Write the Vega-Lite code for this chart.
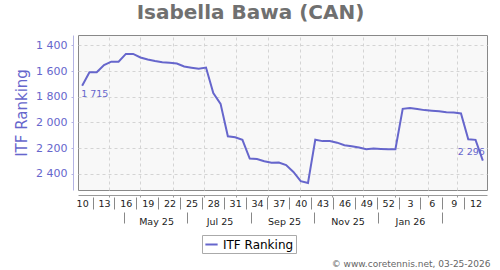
{
  "$schema": "https://vega.github.io/schema/vega-lite/v6.json",
  "width": 409,
  "height": 155,
  "autosize": {"type": "none"},
  "padding": {"left": 78, "top": 35, "right": 13, "bottom": 80},
  "background": "white",
  "config": {
    "font": "DejaVu Sans",
    "locale": {"number": {"decimal": ".", "thousands": " ", "grouping": [3], "currency": ["", ""]}},
    "view": {"fill": "#f8f8f8", "stroke": "#888888", "strokeWidth": 1},
    "axis": {"labelFont": "DejaVu Sans", "titleFont": "DejaVu Sans"}
  },
  "title": {"text": "Isabella Bawa (CAN)", "fontSize": 20, "fontWeight": "bold", "color": "#707070", "anchor": "middle", "frame": "group", "dx": -32, "offset": 12},
  "data": {"values": [
    {"date": "2025-03-06", "rank": 1715},
    {"date": "2025-03-13", "rank": 1610},
    {"date": "2025-03-20", "rank": 1609},
    {"date": "2025-03-27", "rank": 1553},
    {"date": "2025-04-03", "rank": 1527},
    {"date": "2025-04-10", "rank": 1527},
    {"date": "2025-04-17", "rank": 1467},
    {"date": "2025-04-24", "rank": 1467},
    {"date": "2025-05-01", "rank": 1495},
    {"date": "2025-05-08", "rank": 1510},
    {"date": "2025-05-15", "rank": 1522},
    {"date": "2025-05-22", "rank": 1531},
    {"date": "2025-05-29", "rank": 1536},
    {"date": "2025-06-05", "rank": 1542},
    {"date": "2025-06-12", "rank": 1565},
    {"date": "2025-06-19", "rank": 1574},
    {"date": "2025-06-26", "rank": 1582},
    {"date": "2025-07-03", "rank": 1573},
    {"date": "2025-07-10", "rank": 1772},
    {"date": "2025-07-17", "rank": 1855},
    {"date": "2025-07-24", "rank": 2107},
    {"date": "2025-07-31", "rank": 2115},
    {"date": "2025-08-07", "rank": 2135},
    {"date": "2025-08-14", "rank": 2281},
    {"date": "2025-08-21", "rank": 2284},
    {"date": "2025-08-28", "rank": 2301},
    {"date": "2025-09-04", "rank": 2313},
    {"date": "2025-09-11", "rank": 2312},
    {"date": "2025-09-18", "rank": 2331},
    {"date": "2025-09-25", "rank": 2385},
    {"date": "2025-10-02", "rank": 2456},
    {"date": "2025-10-09", "rank": 2470},
    {"date": "2025-10-16", "rank": 2134},
    {"date": "2025-10-23", "rank": 2145},
    {"date": "2025-10-30", "rank": 2145},
    {"date": "2025-11-06", "rank": 2157},
    {"date": "2025-11-13", "rank": 2177},
    {"date": "2025-11-20", "rank": 2185},
    {"date": "2025-11-27", "rank": 2195},
    {"date": "2025-12-04", "rank": 2208},
    {"date": "2025-12-11", "rank": 2203},
    {"date": "2025-12-18", "rank": 2206},
    {"date": "2025-12-25", "rank": 2208},
    {"date": "2026-01-01", "rank": 2208},
    {"date": "2026-01-08", "rank": 1894},
    {"date": "2026-01-15", "rank": 1888},
    {"date": "2026-01-22", "rank": 1895},
    {"date": "2026-01-29", "rank": 1904},
    {"date": "2026-02-05", "rank": 1908},
    {"date": "2026-02-12", "rank": 1912},
    {"date": "2026-02-19", "rank": 1920},
    {"date": "2026-02-26", "rank": 1923},
    {"date": "2026-03-05", "rank": 1930},
    {"date": "2026-03-12", "rank": 2130},
    {"date": "2026-03-19", "rank": 2135},
    {"date": "2026-03-26", "rank": 2296}
  ]},
  "resolve": {"axis": {"x": "independent"}},
  "encoding": {
    "y": {
      "field": "rank", "type": "quantitative",
      "scale": {"domain": [1320, 2525], "reverse": true, "nice": false, "zero": false},
      "axis": {
        "values": [1400, 1600, 1800, 2000, 2200, 2400],
        "labelExpr": "replace(format(datum.value, ','), ',', ' ')",
        "labelOverlap": false, "labelFlush": false, "labelBound": false,
        "offset": 5, "domainColor": "#b4b4e4", "tickColor": "#b4b4e4", "tickSize": 2,
        "labelColor": "#6666cc", "labelFontSize": 11, "labelPadding": 4,
        "grid": true, "gridDash": [3, 3], "gridColor": "#d4d4d4",
        "title": "ITF Ranking", "titleColor": "#6666cc", "titleFontSize": 15, "titleFontWeight": "normal",
        "titleX": -52, "titleY": 77.5, "titleAngle": 270, "titleAlign": "center", "titleBaseline": "middle"
      }
    }
  },
  "layer": [
    {
      "mark": {"type": "line", "strokeWidth": 2, "clip": true},
      "encoding": {
        "x": {
          "field": "date", "type": "temporal",
          "scale": {"type": "utc", "domain": [{"year": 2025, "month": 3, "date": 2, "utc": true}, {"year": 2026, "month": 3, "date": 30, "utc": true}]},
          "axis": {
            "orient": "bottom", "title": null, "offset": 5, "grid": false,
            "values": [
              {"year": 2025, "month": 3, "date": 6, "utc": true},
              {"year": 2025, "month": 3, "date": 27, "utc": true},
              {"year": 2025, "month": 4, "date": 17, "utc": true},
              {"year": 2025, "month": 5, "date": 8, "utc": true},
              {"year": 2025, "month": 5, "date": 29, "utc": true},
              {"year": 2025, "month": 6, "date": 19, "utc": true},
              {"year": 2025, "month": 7, "date": 10, "utc": true},
              {"year": 2025, "month": 7, "date": 31, "utc": true},
              {"year": 2025, "month": 8, "date": 21, "utc": true},
              {"year": 2025, "month": 9, "date": 11, "utc": true},
              {"year": 2025, "month": 10, "date": 2, "utc": true},
              {"year": 2025, "month": 10, "date": 23, "utc": true},
              {"year": 2025, "month": 11, "date": 13, "utc": true},
              {"year": 2025, "month": 12, "date": 4, "utc": true},
              {"year": 2025, "month": 12, "date": 25, "utc": true},
              {"year": 2026, "month": 1, "date": 15, "utc": true},
              {"year": 2026, "month": 2, "date": 5, "utc": true},
              {"year": 2026, "month": 2, "date": 26, "utc": true},
              {"year": 2026, "month": 3, "date": 19, "utc": true}
            ],
            "labelExpr": "'' + toNumber(utcFormat(datum.value, '%V'))",
            "tickSize": 0, "domain": true, "domainColor": "#999999",
            "labelFontSize": 9.5, "labelColor": "#222222", "labelPadding": 3,
            "labelFlush": false, "labelOverlap": false, "labelBound": false
          }
        },
        "color": {
          "datum": "ITF Ranking", "type": "nominal",
          "scale": {"range": ["#6666cc"]},
          "legend": {
            "title": null, "orient": "none", "legendX": 124, "legendY": 200,
            "symbolType": "stroke", "symbolStrokeWidth": 2, "symbolSize": 150,
            "labelFontSize": 12, "labelColor": "#000000", "labelFont": "DejaVu Sans",
            "strokeColor": "#aaaaaa", "fillColor": "#ffffff", "padding": 2, "labelOffset": 4
          }
        }
      }
    },
    {
      "transform": [{"filter": "datum.rank == 1715"}],
      "mark": {"type": "text", "align": "left", "baseline": "top", "dx": -1, "dy": 3, "fontSize": 9.5, "color": "#6666cc"},
      "encoding": {
        "x": {
          "field": "date", "type": "temporal",
          "axis": {
            "orient": "bottom", "title": null, "offset": 7, "grid": false, "labels": false, "domain": false,
            "tickSize": 12, "tickColor": "#888888",
            "values": [
              {"year": 2025, "month": 3, "date": 16, "utc": true},
              {"year": 2025, "month": 4, "date": 6, "utc": true},
              {"year": 2025, "month": 4, "date": 27, "utc": true},
              {"year": 2025, "month": 5, "date": 18, "utc": true},
              {"year": 2025, "month": 6, "date": 8, "utc": true},
              {"year": 2025, "month": 6, "date": 29, "utc": true},
              {"year": 2025, "month": 7, "date": 20, "utc": true},
              {"year": 2025, "month": 8, "date": 10, "utc": true},
              {"year": 2025, "month": 8, "date": 31, "utc": true},
              {"year": 2025, "month": 9, "date": 21, "utc": true},
              {"year": 2025, "month": 10, "date": 12, "utc": true},
              {"year": 2025, "month": 11, "date": 2, "utc": true},
              {"year": 2025, "month": 11, "date": 23, "utc": true},
              {"year": 2025, "month": 12, "date": 14, "utc": true},
              {"year": 2026, "month": 1, "date": 4, "utc": true},
              {"year": 2026, "month": 1, "date": 25, "utc": true},
              {"year": 2026, "month": 2, "date": 15, "utc": true},
              {"year": 2026, "month": 3, "date": 8, "utc": true}
            ]
          }
        },
        "text": {"field": "rank", "type": "quantitative", "format": ","}
      }
    },
    {
      "transform": [{"filter": "datum.rank == 2296"}],
      "mark": {"type": "text", "align": "right", "baseline": "bottom", "dx": 2, "dy": -4, "fontSize": 9.5, "color": "#6666cc"},
      "encoding": {
        "x": {
          "field": "date", "type": "temporal",
          "axis": {
            "orient": "bottom", "title": null, "offset": 5, "labels": false, "domain": false,
            "tickSize": 2, "tickColor": "#999999",
            "grid": true, "gridDash": [3, 3], "gridColor": "#d4d4d4",
            "values": [
              {"year": 2025, "month": 4, "date": 1, "utc": true},
              {"year": 2025, "month": 5, "date": 1, "utc": true},
              {"year": 2025, "month": 6, "date": 1, "utc": true},
              {"year": 2025, "month": 7, "date": 1, "utc": true},
              {"year": 2025, "month": 8, "date": 1, "utc": true},
              {"year": 2025, "month": 9, "date": 1, "utc": true},
              {"year": 2025, "month": 10, "date": 1, "utc": true},
              {"year": 2025, "month": 11, "date": 1, "utc": true},
              {"year": 2025, "month": 12, "date": 1, "utc": true},
              {"year": 2026, "month": 1, "date": 1, "utc": true},
              {"year": 2026, "month": 2, "date": 1, "utc": true},
              {"year": 2026, "month": 3, "date": 1, "utc": true}
            ]
          }
        },
        "text": {"field": "rank", "type": "quantitative", "format": ","}
      }
    },
    {
      "mark": {"type": "point", "opacity": 0},
      "encoding": {
        "x": {
          "field": "date", "type": "temporal",
          "axis": {
            "orient": "bottom", "offset": 5, "grid": false, "domain": false, "tickSize": 0,
            "labelPadding": 21, "labelFontSize": 9.5, "labelColor": "#222222",
            "labelExpr": "utcFormat(datum.value, '%b %y')",
            "labelFlush": false, "labelOverlap": false, "labelBound": false,
            "values": [
              {"year": 2025, "month": 5, "date": 16, "utc": true},
              {"year": 2025, "month": 7, "date": 16, "utc": true},
              {"year": 2025, "month": 9, "date": 16, "utc": true},
              {"year": 2025, "month": 11, "date": 16, "utc": true},
              {"year": 2026, "month": 1, "date": 15, "utc": true}
            ],
            "title": "© www.coretennis.net, 03-25-2026",
            "titleX": 412, "titleY": 68, "titleAlign": "right", "titleBaseline": "middle",
            "titleFontSize": 9, "titleFontWeight": "normal", "titleColor": "#666666"
          }
        }
      }
    },
    {
      "mark": {"type": "point", "opacity": 0},
      "encoding": {
        "x": {
          "field": "date", "type": "temporal",
          "axis": {
            "orient": "bottom", "title": null, "offset": 22, "grid": false, "labels": false, "domain": false,
            "tickSize": 11, "tickColor": "#888888",
            "values": [
              {"year": 2025, "month": 4, "date": 15, "utc": true},
              {"year": 2025, "month": 6, "date": 15, "utc": true},
              {"year": 2025, "month": 8, "date": 15, "utc": true},
              {"year": 2025, "month": 10, "date": 15, "utc": true},
              {"year": 2025, "month": 12, "date": 15, "utc": true},
              {"year": 2026, "month": 2, "date": 15, "utc": true}
            ]
          }
        }
      }
    }
  ]
}
